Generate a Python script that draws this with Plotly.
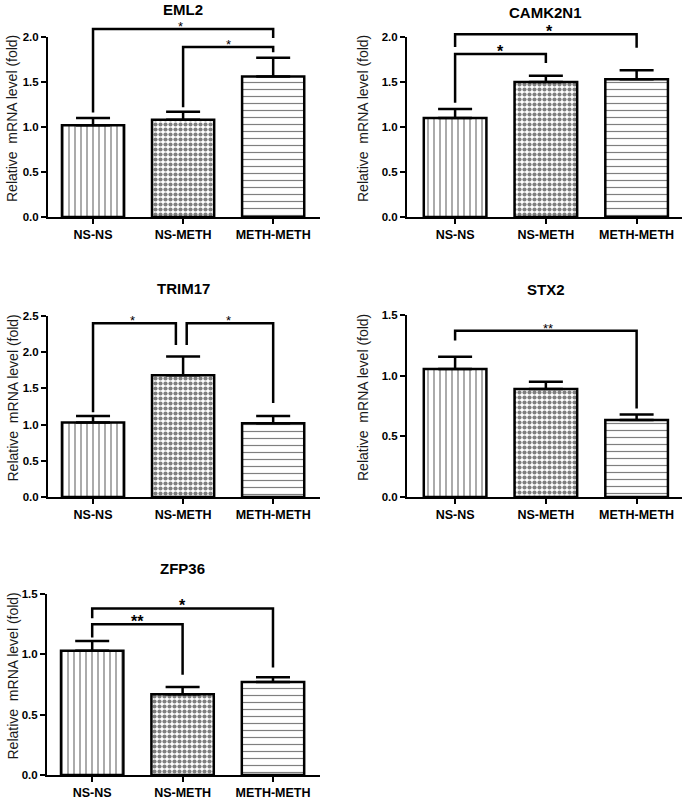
import plotly.graph_objects as go

W, H = 685, 800

categories = ["NS-NS", "NS-METH", "METH-METH"]
genes = ["EML2", "CAMK2N1", "TRIM17", "STX2", "ZFP36"]

eml2_mean = [1.02, 1.08, 1.56]
eml2_err = [0.08, 0.09, 0.21]
camk2n1_mean = [1.10, 1.50, 1.53]
camk2n1_err = [0.10, 0.07, 0.10]
trim17_mean = [1.03, 1.68, 1.02]
trim17_err = [0.09, 0.26, 0.10]
stx2_mean = [1.055, 0.89, 0.635]
stx2_err = [0.10, 0.06, 0.045]
zfp36_mean = [1.03, 0.67, 0.77]
zfp36_err = [0.08, 0.06, 0.04]

y_max = [2.0, 2.0, 2.5, 1.5, 1.5]
y_ticks = [[0, 0.5, 1.0, 1.5, 2.0], [0, 0.5, 1.0, 1.5, 2.0],
           [0, 0.5, 1.0, 1.5, 2.0, 2.5], [0, 0.5, 1.0, 1.5], [0, 0.5, 1.0, 1.5]]

# significance brackets: (x_left, y_left_end, x_right, y_right_end, y_top, label, label_x, big)
eml2_sig = [(0, 1.16, 2, 1.99, 2.09, "*", 0.97, False),
            (1, 1.22, 2, 1.83, 1.89, "*", 1.5, False)]
camk2n1_sig = [(0, 1.89, 2, 1.88, 2.03, "*", 1.04, True),
               (0, 1.27, 1, 1.71, 1.81, "*", 0.5, True)]
trim17_sig = [(0, 1.17, 0.92, 2.10, 2.40, "*", 0.44, False),
              (1.04, 2.10, 2, 1.30, 2.40, "*", 1.5, False)]
stx2_sig = [(0, 1.29, 2, 0.73, 1.37, "**", 1.02, False)]
zfp36_sig = [(0, 1.30, 2, 0.89, 1.38, "*", 1.0, True),
             (0, 1.14, 1, 0.83, 1.25, "**", 0.5, True)]

means = [eml2_mean, camk2n1_mean, trim17_mean, stx2_mean, zfp36_mean]
errs = [eml2_err, camk2n1_err, trim17_err, stx2_err, zfp36_err]
sigs = [eml2_sig, camk2n1_sig, trim17_sig, stx2_sig, zfp36_sig]

# layout (pixel boxes)
x_px = [(48, 320), (407, 682), (48, 320), (407, 682), (47, 320)]
y_px = [(37, 217), (37, 217), (316, 497), (315, 497), (594, 775)]
x_rng = [(-0.5, 2.52), (-0.53, 2.5), (-0.5, 2.52), (-0.53, 2.5), (-0.5, 2.52)]
title_px = [10, 12, 288, 289, 568]
ytitle_x_px = [12, 363, 12, 363, 12]
EXT = 25  # extra px above plot for brackets

patterns = [dict(shape="|", size=6, solidity=0.22, fgcolor="black", bgcolor="white"),
            dict(shape=".", size=5, solidity=0.55, fgcolor="black", bgcolor="white"),
            dict(shape="-", size=7, solidity=0.17, fgcolor="black", bgcolor="white")]


def sid(n):
    return "" if n == 1 else str(n)


fig = go.Figure()
layout = dict(width=W, height=H, margin=dict(l=0, r=0, t=0, b=0),
              paper_bgcolor="white", plot_bgcolor="rgba(0,0,0,0)", showlegend=False,
              font=dict(family="Liberation Sans, Arial, sans-serif", color="black"))
annotations = []

for i in range(5):
    n = i + 1
    xa, ya, yb = f"x{sid(n)}", f"y{sid(n)}", f"y{n + 5}"
    for j, cat in enumerate(categories):
        fig.add_trace(go.Bar(
            x=[j], y=[means[i][j]], width=0.69,
            xaxis=xa, yaxis=ya,
            marker=dict(color="white", pattern=patterns[j],
                        line=dict(color="black", width=2.5)),
            error_y=dict(type="data", symmetric=False, array=[errs[i][j]],
                         arrayminus=[0], color="black", thickness=2.5, width=17),
            hoverinfo="skip"))
    for (xl, yl, xr, yr, yt, lab, lx, big) in sigs[i]:
        fig.add_trace(go.Scatter(x=[xl, xl, xr, xr], y=[yl, yt, yt, yr], mode="lines",
                                 line=dict(color="black", width=2.5),
                                 xaxis=xa, yaxis=yb, hoverinfo="skip"))
        annotations.append(dict(
            x=lx, y=yt, xref=xa, yref=yb, text=lab, showarrow=False,
            yanchor="bottom", yshift=-8 if big else -7,
            font=dict(size=16 if big else 13, weight="bold" if big else "normal")))

    x0, x1 = x_px[i]
    y0, y1 = y_px[i]
    h = y1 - y0
    layout[f"xaxis{sid(n)}"] = dict(
        domain=[x0 / W, x1 / W], range=list(x_rng[i]), anchor=ya, automargin=False,
        tickvals=[0, 1, 2], ticktext=categories, showline=True, linecolor="black",
        linewidth=2, ticks="outside", ticklen=5, tickwidth=2, tickcolor="black",
        showgrid=False, zeroline=False,
        tickfont=dict(size=12.5, weight="bold", color="black"))
    layout[f"yaxis{sid(n)}"] = dict(
        domain=[1 - y1 / H, 1 - y0 / H], range=[0, y_max[i]], anchor=xa, automargin=False,
        tickvals=y_ticks[i], tickformat=".1f", showline=True, linecolor="black",
        linewidth=2, ticks="outside", ticklen=5, tickwidth=2, tickcolor="black",
        showgrid=False, zeroline=False,
        tickfont=dict(size=11.5, weight="bold", color="black"))
    layout[f"yaxis{n + 5}"] = dict(
        domain=[1 - y1 / H, 1 - (y0 - EXT) / H], range=[0, y_max[i] * (h + EXT) / h],
        anchor=xa, visible=False, showgrid=False, zeroline=False, automargin=False)
    annotations.append(dict(
        x=1, y=1 - title_px[i] / H, xref=xa, yref="paper", text=genes[i],
        showarrow=False, yanchor="middle", font=dict(size=15, weight="bold")))
    annotations.append(dict(
        x=ytitle_x_px[i] / W, y=0.5, xref="paper", yref=f"{ya} domain",
        text="Relative  mRNA level (fold)", textangle=-90, showarrow=False,
        xanchor="center", yanchor="middle", yshift=8,
        font=dict(size=14, color="#1a1a1a")))

layout["annotations"] = annotations
fig.update_layout(**layout)
fig.write_html("out.html", config={"displayModeBar": False},
               post_script="document.body.style.margin='0';document.body.style.padding='0';")
